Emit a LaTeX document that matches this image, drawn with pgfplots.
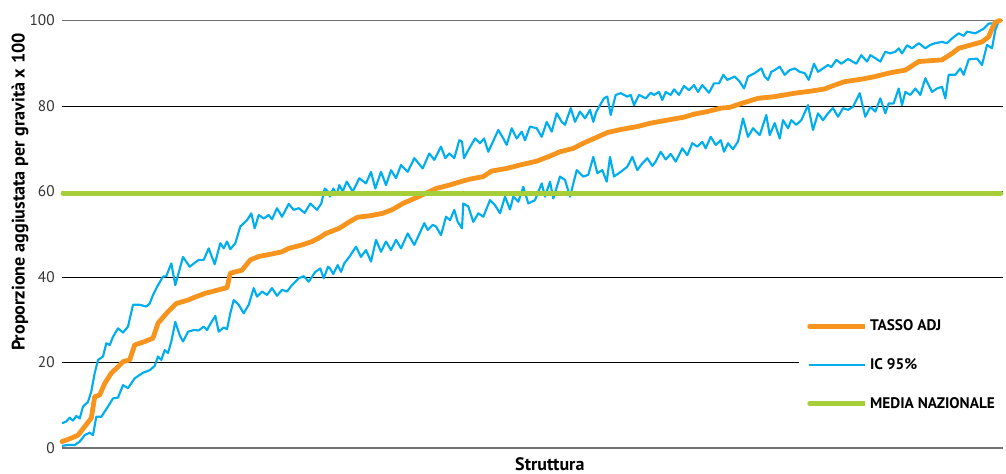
\documentclass[border=0pt]{standalone}
\usepackage{pgfplots}
\pgfplotsset{compat=1.18}
\usepackage{fontspec}
\setmainfont{PT Sans}
\definecolor{cOrange}{HTML}{F7941D}
\definecolor{cBlue}{HTML}{00AEEF}
\definecolor{cGreen}{HTML}{A6CE39}
\begin{document}
\begin{tikzpicture}
\useasboundingbox (-46.5pt,-19.5pt) rectangle (708pt,336pt);
\begin{axis}[
  at={(0,0)}, anchor=south west,
  scale only axis, width=705.75pt, height=320.6pt,
  xmin=62, xmax=1003, ymin=0, ymax=100,
  xtick=\empty,
  ytick={20,40,60,80},
  extra y ticks={0,100},
  extra y tick style={grid style={draw=black!55, line width=0.9pt}},
  ymajorgrids,
  grid style={draw=black, line width=0.6pt},
  major tick length=0pt,
  axis line style={draw=none},
  clip=false,
  /pgf/number format/assume math mode=true,
  tick label style={font=\fontsize{11.5}{13}\selectfont, text=black!80},
  yticklabel style={xshift=-2pt},
  ylabel={\textbf{Proporzione aggiustata per gravità x 100}},
  every axis y label/.style={at={(axis description cs:-0.0446,0.599)}, rotate=90, anchor=center, font=\fontsize{13.6}{15}\selectfont},
  xlabel={\textbf{Struttura}},
  every axis x label/.style={at={(axis description cs:0.5,0)}, anchor=center, yshift=-12pt, xshift=13pt, font=\fontsize{13.5}{15}\selectfont},
  legend style={at={(axis cs:799,31.9)}, anchor=north west, draw=none, fill=white,
    font=\bfseries\fontsize{11.5}{13}\selectfont, row sep=15.3pt, inner xsep=6pt, inner ysep=4pt},
  legend cell align=left,
  legend image code/.code={\path (0pt,0pt) -- (41.5pt,0pt); \draw[#1, line cap=round] (0pt,0pt) -- (39pt,0pt);},
]
\addlegendimage{cOrange, line width=3.6pt}
\addlegendentry{TASSO ADJ}
\addlegendimage{cBlue, line width=1.6pt}
\addlegendentry{IC 95\%}
\addlegendimage{cGreen, line width=3.6pt}
\addlegendentry{MEDIA NAZIONALE}

% lower CI
\addplot[forget plot, cBlue, line width=1.6pt, line join=round] coordinates {
(62,0.5)(68,0.7)(74.7,0.7)(79.7,1.5)(84.7,3)(89.7,3.6)(93,3)(96.3,7.3)(101.3,7.3)(108,9.7)(113,11.6)(118,11.8)(123,14.7)(128,14)(134.7,16.3)(143,17.6)(149.7,18.2)(154.7,19.2)(158,21.4)(161.3,20.6)(164.7,22.9)(168,22.2)(171.3,24.9)(175.3,29.5)(179.7,26.4)(183,24.9)(188,27.2)(194,27.6)
(198.7,27.5)(203.7,28.4)(207,27.6)(210.3,29)(215.3,30.9)(218.7,27.2)(223.7,28.2)(227,27.8)(230.3,31.5)(233.7,34.6)(238.7,33.5)(243.7,31.5)(248.7,33.5)(253.7,37.4)(257,35.4)(262,36.6)(267,35.8)(272,37.4)(277,35.6)(282,37)(287,36.6)(292,38.1)(298.7,39.7)(303.7,40.2)(308.7,38.9)(315.3,41.2)(320.3,42)(323.7,39.7)(328,42.4)
(330,42)(333.3,40.7)(337.7,42.8)(341,41.2)(344.3,43.2)(349.3,44.7)(356,47.1)(361,44.7)(366,46.3)(371,43.6)(376,48.7)(381,45.9)(386,48.3)(391,46.3)(396,48.7)(401,46.7)(407.7,50.2)(414.3,47.5)(424.3,52.6)(427.7,51)(432.7,52.2)(436,51.8)(441,49.8)(446,54.1)(450,53.3)(454.3,55.7)(457.7,52.9)(462,51.4)
(463.3,57.2)(468.3,56.5)(473.3,52.9)(478.3,54.9)(483.3,54.1)(490,58)(495,56.8)(500,54.9)(505,58.8)(510,55.8)(513.3,58.8)(518.3,57.6)(523.3,61.1)(528.3,57.2)(535,58)(541.7,61.9)(545,58.8)(550,62.3)(553.3,58.4)(560,63.5)(565,62.7)(570,58.8)(576.7,65)(583.3,63.5)(588.3,63.9)(593.3,68.1)
(597.3,64.3)(602.3,65)(606.7,62.3)(610,68.1)(614,63.5)(620.7,64.6)(627.3,65.8)(632.3,68.1)(637.3,65)(642.3,66.6)(647.3,67.8)(652.3,66)(655.7,67)(660.7,69.3)(665.7,67.5)(670.7,68.8)(675.7,67)(682.3,70.1)(687.3,68.5)(692.3,71.3)(697.3,70.5)(702.3,71.6)(705.7,70.1)(710.7,72.8)(715.7,70.9)(720.7,72)(724,69.3)(728,71.3)
(733,69.9)(738,71.7)(743,77.1)(748,72.8)(753,74.8)(759.7,73.2)(766.3,77.9)(769.7,73.2)(774.7,76)(779.7,72.4)(783,76.7)(788,74.8)(791.3,76.7)(796.3,75.6)(801.3,76.7)(808,80.2)(813,74.4)(818,78.3)(823,76.7)(828,78.3)(833,79.5)(838,77.5)(843,79.5)(848,79.1)(853,79.8)(859.7,83)(865.3,77.5)
(870.3,79.8)(875.3,78.7)(880.3,81.8)(885.3,78.3)(888.7,80.6)(893.7,80.6)(898.7,84.1)(902,80.2)(905.3,83.3)(910.3,82.6)(915.3,84.1)(920.3,82.6)(925.3,86.5)(932,83.3)(937,84.1)(942,84.5)(945.3,81.8)(948.7,87.3)(955.3,87.3)(960.3,88.8)(963.7,87.3)(968.7,90.9)(977,91.1)(982,89.6)(987,94.3)(992,93.5)(995.3,97.8)(999,100)
};
% upper CI
\addplot[forget plot, cBlue, line width=1.6pt, line join=round] coordinates {
(62,5.8)(66.3,6.2)(69.7,7.1)(73,6.4)(76.3,7.5)(79.7,6.9)(83,9.7)(88,10.8)(91.3,13.2)(94.7,17.5)(98,20.6)(103,21.4)(106.3,24.5)(109.7,24.1)(113,26)(118,28)(123,27)(128,28.4)(133,33.5)(139.7,33.5)(146.3,33.1)(149.7,33.8)(153,35.8)(158,38.1)(163,40.1)(166.3,40.2)(171.3,43.2)(175.3,38.1)(183,44.7)(189.7,42.4)(194,43.2)
(198.7,44)(203.7,44)(208.7,46.7)(214.7,43)(220.3,47.9)(223.7,46.7)(227,48.3)(230.3,46.5)(235.3,47.9)(240.3,51.8)(247,53.3)(251.3,54.9)(254.7,51.4)(258.7,54.5)(263.7,53.7)(268.7,54.5)(272,53.5)(277,56.1)(282,54.1)(288.7,57.1)(293.7,55.7)(298.7,56.1)(304.7,55)(310.3,57.2)(317,55.7)(321.3,57.2)(324.7,60.7)(328,60)
(330,58.8)(333.3,60.7)(336.7,59.2)(339.3,61.5)(342.7,60)(346.7,62.3)(352.7,60)(359.3,63.1)(366,61.9)(371,64.6)(375.3,60.7)(381,64.6)(386,61.5)(391,65)(396,63.1)(401,66.2)(407.7,64.6)(414.3,67.8)(422.7,65.4)(429.3,68.9)(434.3,67.4)(441,70.5)(445.3,67.8)(449.3,68.9)(454.3,67.8)(459.3,72)(462,71.7)
(464,67.8)(468.3,69.7)(475,72.4)(480,71.3)(484,72.4)(488.3,69.3)(498.3,74.4)(503.3,72.4)(506.7,70.9)(511.7,74.8)(516.7,72.4)(521.7,74)(525,72)(530,75.2)(536.7,74.8)(541.7,72.8)(546.7,76.3)(551.7,74)(556.7,78.3)(561.7,76.3)(565,75.6)(570.7,79.5)(575,76.3)(580,78.7)(585,77.1)(590,79.1)(593.3,76.3)(596,78.5)
(599,79.8)(604,81.8)(607.3,82.2)(610.7,77.9)(615.7,82.6)(620.7,83)(627.3,82.2)(630.7,82.6)(634,80.2)(639,82.6)(645.7,81.8)(650.7,83.1)(654,82.6)(659,83.3)(662.3,81.4)(665.7,83.3)(670.7,82.6)(674,83.9)(679,82.6)(684,84.7)(689,83.7)(694,84.9)(698,83.3)(702.3,84.9)(709,83.1)(714,85.3)(719,85.3)(723.3,87.3)(727.3,86.1)
(734.7,86.9)(739.7,85.7)(744,84.1)(748,86.9)(754.7,87.7)(761.3,88.8)(764.7,86.9)(768,86.1)(771.3,88)(774.7,88.4)(779.7,89.2)(784.7,87.3)(789.7,88.4)(794.7,88.8)(799.7,88)(804.7,87.7)(808.7,86.1)(814,89.9)(818,88)(823,88.8)(828,89.6)(831.3,89.1)(836.3,90.8)(841.3,89.9)(848,91)(856.3,89.9)(861.3,91.9)
(867,90.4)(870.3,91.9)(875.3,91.2)(880.3,90.4)(885.3,92.7)(890.3,92.3)(895.3,92.7)(898.7,93.5)(902,92.3)(907,94.2)(912,93.5)(918.7,94.7)(925.3,93.5)(930.3,94.3)(935.3,94.7)(942,95)(947,94.7)(952,95.8)(958.7,97)(963.7,96.4)(967,97.4)(975.3,97)(983.7,98.1)(988.7,99.3)(993.7,99.3)(998.7,100)(1002,100)
};
% adjusted rate
\addplot[forget plot, cOrange, line width=3.6pt, line join=round, line cap=round] coordinates {
(62,1.5)(71.3,2.3)(78,3)(84.7,5)(91.3,7)(94.7,12)(99.7,12.4)(104.7,15.1)(111.3,17.5)(118,19)(123,20.2)(129.7,20.6)(134.7,24.1)(144.7,24.9)(153,25.7)(158,29.2)(168,31.9)(176.3,33.8)(188,34.6)(194,35.2)(205.3,36.2)(215.3,36.8)(227,37.5)(230.3,40.9)(242,41.6)(250.3,44)(258.7,44.8)(272,45.4)(282,45.9)(288.7,46.7)(302,47.5)(312,48.3)(318.7,49.1)(326,50.2)(339.3,51.4)(349.3,52.9)(357.7,54)(369.3,54.3)(382.7,54.9)(392.7,55.8)(402.7,57.2)(412.7,58.2)(426,59.6)(436,60.7)(449.3,61.5)(462,62.4)(470,62.9)(483.3,63.5)(491.7,64.8)(506.7,65.4)(520,66.2)(536.7,67.1)(550,68.3)(560,69.3)(573.3,70.1)(583.3,71.3)(596,72.6)(607.3,73.8)(620.7,74.5)(637.3,75.2)(650.7,76)(667.3,76.7)(684,77.4)(694,78.1)(707.3,78.7)(720.7,79.5)(730,79.7)(741.3,80.6)(758,81.8)(774.7,82.2)(794.7,83)(811.3,83.5)(824.7,84)(834.7,84.9)(844.7,85.7)(862,86.3)(875.3,86.9)(888.7,87.7)(905.3,88.4)(918.7,90.4)(942,90.8)(952,92.3)(958.7,93.5)(982,95)(988.7,96.2)(992,98.1)(995.3,99.6)(1000,100)
};
% national mean
\addplot[forget plot, cGreen, line width=3.6pt, line cap=round] coordinates {(63,59.6)(1001,59.6)};
\end{axis}
\end{tikzpicture}
\end{document}
